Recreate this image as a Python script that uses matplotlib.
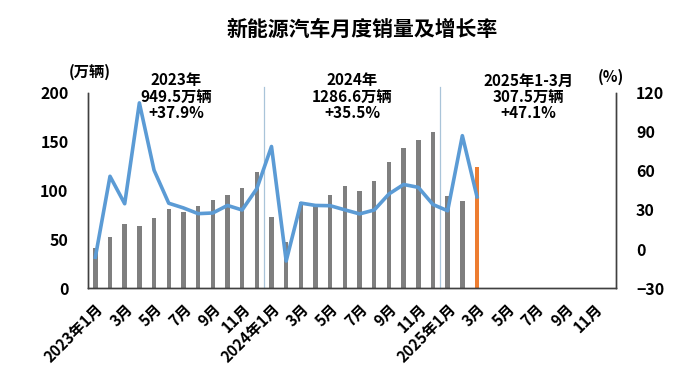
import matplotlib
matplotlib.use("Agg")
import matplotlib.pyplot as plt
import numpy as np

plt.rcParams['font.family'] = ['Noto Sans CJK SC', 'DejaVu Sans']

# months shown on the axis: 2023-01 .. 2025-12
months = []
for y in [2023, 2024, 2025]:
    for m in range(1, 13):
        months.append((y, m))

# monthly NEV sales (万辆), 2023-01 .. 2025-03
sales = [40.8, 52.5, 65.3, 63.6, 71.7, 80.6, 78.0, 84.6, 90.4, 95.6, 102.6, 119.1,
         72.9, 47.7, 88.3, 85.0, 95.5, 104.9, 99.1, 110.0, 128.7, 143.0, 151.2, 159.6,
         94.4, 89.2, 123.7]
# year-on-year growth (%)
growth = [-6.3, 55.9, 34.8, 112.3, 60.6, 35.2, 31.6, 27.2, 27.7, 33.5, 30.0, 46.4,
          78.8, -9.2, 35.3, 33.5, 33.3, 30.1, 27.0, 30.0, 42.3, 49.6, 47.4, 34.2,
          29.4, 87.1, 40.1]

tick_labels = []
for y, m in months:
    if m % 2 == 1:
        tick_labels.append(f"{y}年{m}月" if m == 1 else f"{m}月")

notes = ["2023年\n949.5万辆\n+37.9%", "2024年\n1286.6万辆\n+35.5%", "2025年1-3月\n307.5万辆\n+47.1%"]

fig = plt.figure(figsize=(7, 3.67), dpi=100)
ax = fig.add_axes([0.1257, 0.215, 0.755, 0.532])
ax2 = ax.twinx()

x = np.arange(len(sales))
colors = ['#7f7f7f'] * len(sales)
colors[-1] = '#ed7d31'
ax.bar(x, sales, width=0.3, color=colors, zorder=2)
ax2.plot(x, growth, color='#5b9bd5', lw=2.6, zorder=3)

ax.set_xlim(-0.5, len(months) - 0.5)
ax.set_ylim(0, 200)
ax2.set_ylim(-30, 120)
ax.set_yticks(range(0, 201, 50))
ax2.set_yticks(range(-30, 121, 30))

for sep in [11.5, 23.5]:
    ax.axvline(sep, color='#a9c4d9', lw=0.9, ymax=1.03, clip_on=False, zorder=1)

ax.set_xticks(np.arange(0, len(months), 2))
ax.set_xticklabels(tick_labels, rotation=45, ha='right', rotation_mode='anchor',
                   fontsize=11, fontweight='bold')
ax.tick_params(axis='x', length=0, pad=9)
ax.tick_params(axis='y', length=0, pad=14, labelsize=11.5)
ax2.tick_params(axis='y', length=0, pad=14, labelsize=11.5)
for lab in ax.get_yticklabels() + ax2.get_yticklabels():
    lab.set_fontweight('bold')

for a in (ax, ax2):
    a.spines['top'].set_visible(False)
    for s in ['left', 'right', 'bottom']:
        a.spines[s].set_color('#404040')
        a.spines[s].set_linewidth(1.0)

fig.text(0.518, 0.92, "新能源汽车月度销量及增长率", ha='center', va='center',
         fontsize=15, fontweight='bold')
fig.text(0.128, 0.805, "(万辆)", ha='center', va='center', fontsize=11, fontweight='bold')
fig.text(0.873, 0.79, "(%)", ha='center', va='center', fontsize=11, fontweight='bold')

note_x = [5.5, 17.5, 29.5]
for nx, txt in zip(note_x, notes):
    ax.text(nx, 196, txt, ha='center', va='center', fontsize=11, fontweight='bold',
            linespacing=1.02, zorder=4)

fig.savefig("out.png", dpi=100)
